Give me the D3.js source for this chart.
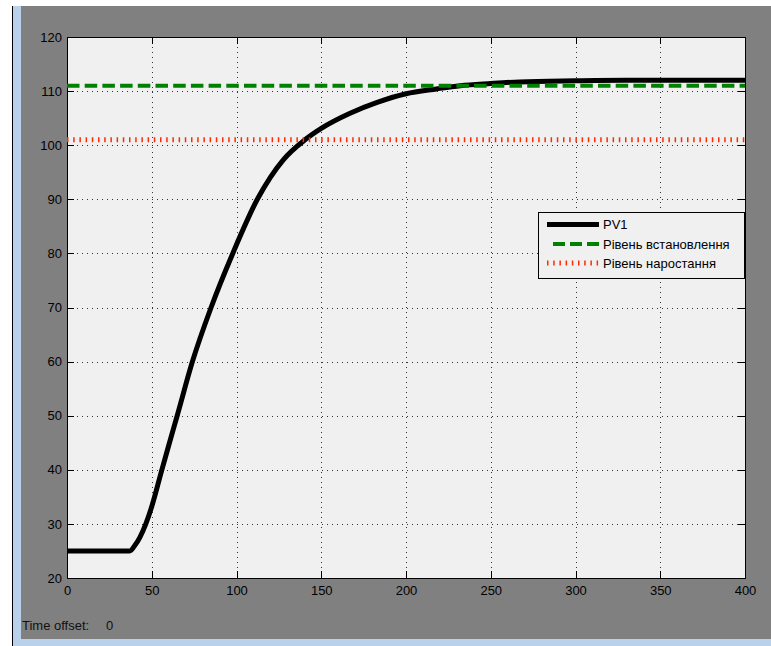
<!DOCTYPE html>
<html>
<head>
<meta charset="utf-8">
<script src="https://cdn.jsdelivr.net/npm/d3@7"></script>
<style>
    body { margin: 0; background: #fff; }
    svg { display: block; font-family: "Liberation Sans", Arial, sans-serif; }
</style>
</head>
<body>
<svg id="chart"></svg>
<script>
// PV1 step response
var time = [0, 37, 40, 43, 46.5, 50, 55.8, 60, 65, 74, 85, 97.8, 112.3, 127.6, 140.4, 150, 167, 183, 200, 218, 232, 250, 267, 300, 330, 400];
var pv1  = [25, 25, 26, 27.5, 30, 33.2, 39.8, 44.5, 50, 60, 70, 80, 90, 97.3, 101, 103.1, 105.9, 107.9, 109.5, 110.4, 111, 111.4, 111.7, 111.9, 112, 112];

var levelTime = [0, 400];
var setpointLevel = [111, 111];
var riseLevel = [101, 101];

var xTicks = [0, 50, 100, 150, 200, 250, 300, 350, 400];
var yTicks = [20, 30, 40, 50, 60, 70, 80, 90, 100, 110, 120];
var legendLabels = ["PV1", "Рівень встановлення", "Рівень наростання"];

var svgWidth = 771, svgHeight = 646;
var plotLeft = 67, plotRight = 745, plotTop = 37, plotBottom = 578;

var svg = d3.select("#chart")
    .attr("width", svgWidth)
    .attr("height", svgHeight);

// window frame
svg.append("rect").attr("width", svgWidth).attr("height", svgHeight).attr("fill", "#fff");
svg.append("rect").attr("x", 12).attr("y", 6).attr("width", 1).attr("height", svgHeight - 6).attr("fill", "#000");
svg.append("rect").attr("x", 13).attr("y", 6).attr("width", svgWidth - 13).attr("height", svgHeight - 6).attr("fill", "#b9d1ea");
svg.append("rect").attr("x", 21).attr("y", 6).attr("width", svgWidth - 21).attr("height", 633).attr("fill", "#808080");

var x = d3.scaleLinear().domain([0, 400]).range([plotLeft, plotRight]);
var y = d3.scaleLinear().domain([20, 120]).range([plotBottom, plotTop]);

svg.append("rect")
    .attr("x", plotLeft).attr("y", plotTop)
    .attr("width", plotRight - plotLeft).attr("height", plotBottom - plotTop)
    .attr("fill", "#f0f0f0");

// dotted grid
var gx = svg.append("g")
    .attr("transform", "translate(0," + plotBottom + ")")
    .call(d3.axisBottom(x).tickValues(xTicks).tickSize(-(plotBottom - plotTop)).tickFormat(""));
var gy = svg.append("g")
    .attr("transform", "translate(" + plotLeft + ",0)")
    .call(d3.axisLeft(y).tickValues(yTicks).tickSize(-(plotRight - plotLeft)).tickFormat(""));
[gx, gy].forEach(function(g) {
    g.select(".domain").remove();
    g.selectAll("line")
        .attr("stroke", "#333")
        .attr("stroke-dasharray", "1,4")
        .attr("shape-rendering", "crispEdges");
});

// inward ticks on all four sides
var tickAxes = [
    [d3.axisBottom(x).tickValues(xTicks), "translate(0," + plotBottom + ")"],
    [d3.axisTop(x).tickValues(xTicks), "translate(0," + plotTop + ")"],
    [d3.axisLeft(y).tickValues(yTicks), "translate(" + plotLeft + ",0)"],
    [d3.axisRight(y).tickValues(yTicks), "translate(" + plotRight + ",0)"]
];
tickAxes.forEach(function(a) {
    var g = svg.append("g")
        .attr("transform", a[1])
        .call(a[0].tickSize(-7).tickFormat(""));
    g.select(".domain").remove();
    g.selectAll("line").attr("stroke", "#000").attr("shape-rendering", "crispEdges");
});

// tick labels
var xl = svg.append("g")
    .attr("transform", "translate(0," + plotBottom + ")")
    .call(d3.axisBottom(x).tickValues(xTicks).tickSize(0).tickPadding(8));
var yl = svg.append("g")
    .attr("transform", "translate(" + plotLeft + ",0)")
    .call(d3.axisLeft(y).tickValues(yTicks).tickSize(0).tickPadding(5));
[xl, yl].forEach(function(g) {
    g.select(".domain").remove();
    g.selectAll("text")
        .attr("fill", "#000")
        .style("font-size", "13px")
        .style("font-family", "\"Liberation Sans\", Arial, sans-serif");
});

// plot box
svg.append("rect")
    .attr("x", plotLeft).attr("y", plotTop)
    .attr("width", plotRight - plotLeft).attr("height", plotBottom - plotTop)
    .attr("fill", "none")
    .attr("stroke", "#000")
    .attr("shape-rendering", "crispEdges");

var line = d3.line()
    .x(function(d) { return x(d[0]); })
    .y(function(d) { return y(d[1]); });

svg.append("path")
    .datum(d3.zip(time, pv1))
    .attr("d", line.curve(d3.curveMonotoneX))
    .attr("fill", "none")
    .attr("stroke", "#000")
    .attr("stroke-width", 5);

var flat = d3.line()
    .x(function(d) { return x(d[0]); })
    .y(function(d) { return y(d[1]); });

svg.append("path")
    .datum(d3.zip(levelTime, setpointLevel))
    .attr("d", flat)
    .attr("fill", "none")
    .attr("stroke", "#008000")
    .attr("stroke-width", 4)
    .attr("stroke-dasharray", "12.5,5.2");

svg.append("path")
    .datum(d3.zip(levelTime, riseLevel))
    .attr("d", flat)
    .attr("fill", "none")
    .attr("stroke", "#ff2a00")
    .attr("stroke-width", 5)
    .attr("stroke-dasharray", "1.5,4.7");

// legend
var legend = svg.append("g").attr("transform", "translate(538,212)");
legend.append("rect")
    .attr("x", 0.5).attr("y", 0.5)
    .attr("width", 206).attr("height", 66)
    .attr("fill", "#f0f0f0")
    .attr("stroke", "#000")
    .attr("shape-rendering", "crispEdges");

var styles = [
    {color: "#000", width: 5, dash: null, x0: 9},
    {color: "#008000", width: 4, dash: "12,5", x0: 15},
    {color: "#ff2a00", width: 5, dash: "1.5,4.7", x0: 9}
];
var rowY = [12.5, 32, 51];

var item = legend.selectAll("g.item")
    .data(legendLabels)
    .enter()
    .append("g")
    .attr("class", "item")
    .attr("transform", function(d, i) { return "translate(0," + rowY[i] + ")"; });
item.append("line")
    .attr("x1", function(d, i) { return styles[i].x0; })
    .attr("x2", 61)
    .attr("stroke", function(d, i) { return styles[i].color; })
    .attr("stroke-width", function(d, i) { return styles[i].width; })
    .attr("stroke-dasharray", function(d, i) { return styles[i].dash; });
item.append("text")
    .attr("x", 65)
    .attr("dy", "0.35em")
    .style("font-size", "13px")
    .attr("fill", "#000")
    .text(function(d) { return d; });

var offset = svg.append("text")
    .attr("y", 630)
    .style("font-size", "13px")
    .attr("fill", "#111");
offset.append("tspan").attr("x", 22).text("Time offset:");
offset.append("tspan").attr("x", 106).text("0");
</script>
</body>
</html>
